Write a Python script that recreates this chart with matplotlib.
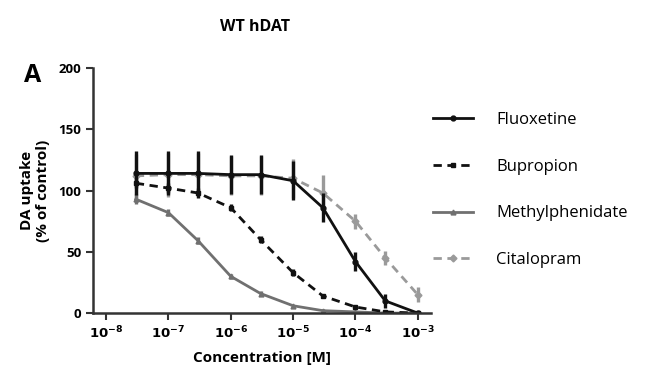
import matplotlib.pyplot as plt

plt.rcParams['font.family'] = ['Open Sans', 'DejaVu Sans']

conc = [3e-8, 1e-7, 3e-7, 1e-6, 3e-6, 1e-5, 3e-5, 1e-4, 3e-4, 1e-3]

fluoxetine = [114, 114, 114, 113, 113, 108, 86, 42, 10, 0]
fluoxetine_err = [18, 18, 18, 16, 16, 16, 12, 8, 6, 2]

bupropion = [106, 102, 98, 86, 60, 33, 14, 5, 1, 0]
bupropion_err = [4, 4, 4, 3, 3, 3, 2, 2, 1, 1]

methylphenidate = [93, 82, 59, 30, 16, 6, 2, 1, 0, 0]
methylphenidate_err = [4, 3, 3, 2, 2, 1, 1, 1, 1, 1]

citalopram = [112, 113, 113, 112, 112, 110, 98, 75, 45, 15]
citalopram_err = [18, 18, 18, 16, 16, 16, 15, 6, 6, 6]

series = [
    ("Fluoxetine", fluoxetine, fluoxetine_err, "#111111", "-", "o"),
    ("Bupropion", bupropion, bupropion_err, "#111111", (0, (3, 2)), "s"),
    ("Methylphenidate", methylphenidate, methylphenidate_err, "#707070", "-", "^"),
    ("Citalopram", citalopram, citalopram_err, "#9a9a9a", (0, (3, 2)), "D"),
]

fig = plt.figure(figsize=(6.5, 3.8), dpi=100)
ax = fig.add_axes([0.143, 0.176, 0.52, 0.645])

# citalopram first so the black series sit on top
lines = {}
for name, vals, err, col, ls, mk in reversed(series):
    ax.errorbar(conc, vals, yerr=err, fmt='none', ecolor=col, elinewidth=2.4, capsize=0)
    lines[name], = ax.plot(conc, vals, color=col, linestyle=ls, linewidth=2,
                           marker=mk, markersize=3.5, label=name)

ax.set_xscale('log')
ax.set_xlim(10 ** -8.21, 10 ** -2.79)
ax.set_ylim(0, 200)
ax.set_xticks([1e-8, 1e-7, 1e-6, 1e-5, 1e-4, 1e-3])
ax.set_xticklabels([r'$\mathbf{10^{-8}}$', r'$\mathbf{10^{-7}}$', r'$\mathbf{10^{-6}}$',
                    r'$\mathbf{10^{-5}}$', r'$\mathbf{10^{-4}}$', r'$\mathbf{10^{-3}}$'])
ax.minorticks_off()
ax.set_yticks([0, 50, 100, 150, 200])
ax.tick_params(labelsize=9.5, width=1.5, length=5, color="#333333")
for lab in ax.get_yticklabels():
    lab.set_fontweight('bold')
for s in ['top', 'right']:
    ax.spines[s].set_visible(False)
for s in ['left', 'bottom']:
    ax.spines[s].set_linewidth(1.8)
    ax.spines[s].set_color("#333333")

ax.set_xlabel("Concentration [M]", fontsize=11, fontweight='bold', labelpad=7)
ax.set_ylabel("DA uptake\n(% of control)", fontsize=11, fontweight='bold', labelpad=6)

fig.text(0.392, 0.93, "WT hDAT", fontsize=11.5, fontweight='bold', ha='center', va='center')
fig.text(0.05, 0.80, "A", fontsize=18, fontweight='bold', ha='center', va='center')

order = ["Fluoxetine", "Bupropion", "Methylphenidate", "Citalopram"]
fig.legend([lines[n] for n in order], order, loc='center left',
           bbox_to_anchor=(0.666, 0.5), frameon=False, fontsize=12,
           borderpad=0, borderaxespad=0,
           handlelength=2.4, handletextpad=1.4, labelspacing=1.85)

fig.savefig("out.png", dpi=100)
